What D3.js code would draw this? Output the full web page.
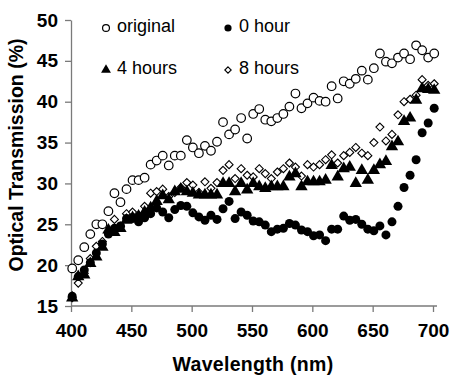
<!DOCTYPE html>
<html>
<head>
<meta charset="utf-8">
<script src="https://cdn.jsdelivr.net/npm/d3@7"></script>
<style>
  body { margin: 0; background: #fff; }
  svg { display: block; font-family: Arial, 'Liberation Sans', sans-serif; }
</style>
</head>
<body>
<svg id="chart" width="451" height="375"></svg>
<script>
// wavelengths (nm)
const wavelength = [401, 406, 411, 416, 421, 426, 431, 436, 441, 446, 451, 456, 461, 466, 471, 476, 481, 486, 491, 496,
  501, 506, 511, 516, 521, 526, 531, 536, 541, 546, 551, 556, 561, 566, 571, 576, 581, 586, 591, 596,
  601, 606, 611, 616, 621, 626, 631, 636, 641, 646, 651, 656, 661, 666, 671, 676, 681, 686, 691, 696, 701];

const original = [19.6, 20.6, 22.2, 23.8, 25.0, 25.0, 26.6, 28.8, 27.7, 29.3, 30.4, 30.4, 30.7, 32.3, 32.8, 33.4, 32.2, 33.4, 33.4, 35.3,
  34.4, 33.7, 34.6, 34.0, 35.1, 37.5, 36.0, 36.6, 38.0, 35.5, 38.5, 39.1, 37.8, 37.6, 38.0, 38.5, 39.4, 41.0, 39.2, 39.8,
  40.5, 40.1, 40.0, 41.9, 40.4, 42.5, 42.2, 42.8, 43.8, 42.7, 44.1, 45.9, 44.9, 44.7, 45.4, 45.9, 45.2, 46.9, 46.3, 45.4, 45.9];

const hour0 = [16.2, 18.6, 19.4, 20.3, 21.5, 22.6, 23.8, 24.5, 24.8, 25.7, 25.7, 25.3, 25.8, 26.3, 27.0, 26.5, 25.8, 26.8, 27.3, 27.2,
  26.4, 25.9, 25.5, 26.1, 25.6, 26.9, 27.8, 25.7, 26.5, 26.1, 25.4, 25.3, 24.9, 24.1, 24.4, 24.5, 25.1, 24.9, 24.3, 24.1,
  23.6, 23.7, 23.0, 24.4, 24.4, 26.0, 25.5, 25.6, 25.0, 24.4, 24.2, 24.8, 23.7, 25.3, 27.2, 29.5, 31.0, 32.9, 36.2, 37.4, 39.2];

const hour4 = [16.0, 18.6, 18.8, 20.2, 21.0, 22.2, 24.3, 24.0, 24.5, 25.5, 25.8, 26.0, 26.5, 27.0, 27.8, 28.5, 28.0, 29.0, 29.3, 29.0,
  28.8, 28.6, 28.6, 28.6, 28.6, 30.0, 30.0, 29.0, 30.0, 29.2, 30.0, 29.6, 29.4, 29.6, 29.6, 29.6, 30.8, 31.2, 29.6, 30.2,
  30.2, 30.2, 30.4, 32.2, 30.8, 31.8, 32.0, 30.0, 31.6, 30.4, 31.6, 32.3, 32.7, 34.5, 35.1, 37.6, 38.0, 40.2, 41.6, 41.5, 41.4];

const hour8 = [16.0, 17.8, 19.0, 20.8, 22.3, 22.9, 23.9, 25.6, 24.7, 26.3, 26.5, 26.1, 27.2, 28.8, 29.0, 29.3, 28.4, 28.9, 29.5, 30.1,
  29.8, 28.9, 30.2, 29.4, 30.1, 31.6, 32.3, 30.6, 31.8, 31.0, 30.8, 31.8, 31.2, 30.6, 31.4, 31.8, 32.5, 32.0, 30.9, 32.3,
  32.0, 32.3, 32.9, 33.5, 32.5, 33.4, 33.8, 34.4, 33.7, 33.4, 35.0, 36.9, 35.2, 36.0, 38.4, 40.0, 40.3, 40.8, 42.7, 42.0, 42.2];

const xTicks = [400, 450, 500, 550, 600, 650, 700];
const yTicks = [15, 20, 25, 30, 35, 40, 45, 50];

const svg = d3.select('#chart');
const axisColor = '#7a7a7a';

const x = d3.scaleLinear().domain([400, 700]).range([71, 433]);
const y = d3.scaleLinear().domain([15, 50]).range([306, 20]);

// axes
const xAxis = svg.append('g')
  .attr('transform', `translate(0,${y(15)})`)
  .call(d3.axisBottom(x).tickValues(xTicks).tickSize(6).tickSizeOuter(0).tickPadding(12));
xAxis.select('.domain').attr('d', `M${x(400)},0H${x(700) + 4}`);

const yAxis = svg.append('g')
  .attr('transform', `translate(${x(400)},0)`)
  .call(d3.axisLeft(y).tickValues(yTicks).tickSize(6).tickSizeOuter(0).tickPadding(7));

[xAxis, yAxis].forEach((g) => {
  g.select('.domain').attr('stroke', axisColor).attr('stroke-width', 1.3);
  g.selectAll('.tick line').attr('stroke', axisColor).attr('stroke-width', 1.3);
  g.selectAll('.tick text')
    .attr('fill', '#000')
    .style('font-size', '19px')
    .style('font-weight', 'bold')
    .style('font-family', "Arial, 'Liberation Sans', sans-serif");
});

// axis titles
svg.append('text')
  .attr('x', 253)
  .attr('y', 371)
  .attr('text-anchor', 'middle')
  .style('font-size', '19.5px')
  .style('font-weight', 'bold')
  .style('letter-spacing', '0.3px')
  .text('Wavelength (nm)');

svg.append('text')
  .attr('transform', 'translate(23,155) rotate(-90)')
  .attr('text-anchor', 'middle')
  .style('font-size', '19.5px')
  .style('font-weight', 'bold')
  .text('Optical Transmission (%)');

// marker symbols
const symTriangle = d3.symbol().type(d3.symbolTriangle);
const symDiamond = (s) => {
  return `M0,${-s}L${s},0L0,${s}L${-s},0Z`;
};

const series = [
  { name: 'original', values: original, kind: 'openCircle' },
  { name: '8 hours', values: hour8, kind: 'diamond' },
  { name: '4 hours', values: hour4, kind: 'triangle' },
  { name: '0 hour', values: hour0, kind: 'filledCircle' },
];

function drawMarker(g, kind, scale) {
  if (kind === 'openCircle') {
    g.append('circle').attr('r', 4.3 * scale).attr('fill', '#fff').attr('stroke', '#000').attr('stroke-width', 1.2);
  } else if (kind === 'filledCircle') {
    g.append('circle').attr('r', 4.5 * scale).attr('fill', '#000');
  } else if (kind === 'triangle') {
    g.append('path').attr('d', symTriangle.size(66 * scale * scale)()).attr('fill', '#000');
  } else {
    g.append('path').attr('d', symDiamond(4 * scale)).attr('fill', '#fff').attr('stroke', '#000').attr('stroke-width', 1.1);
  }
}

series.forEach((s) => {
  const grp = svg.append('g').attr('class', 'series');
  grp.selectAll('g')
    .data(s.values.map((v, i) => ({ w: wavelength[i], v })))
    .enter()
    .append('g')
    .attr('transform', (d) => `translate(${x(d.w)},${y(d.v)})`)
    .each(function () {
      drawMarker(d3.select(this), s.kind, 1);
    });
});

// legend
const legendItems = [
  { name: 'original', kind: 'openCircle', lx: 106, ly: 28 },
  { name: '0 hour', kind: 'filledCircle', lx: 228, ly: 28 },
  { name: '4 hours', kind: 'triangle', lx: 106, ly: 70 },
  { name: '8 hours', kind: 'diamond', lx: 228, ly: 70 },
];

legendItems.forEach((d) => {
  const g = svg.append('g').attr('transform', `translate(${d.lx},${d.ly})`);
  drawMarker(g, d.kind, 0.8);
  g.append('text')
    .attr('x', 11)
    .attr('y', 4)
    .style('font-size', '18px')
    .text(d.name);
});
</script>
</body>
</html>
